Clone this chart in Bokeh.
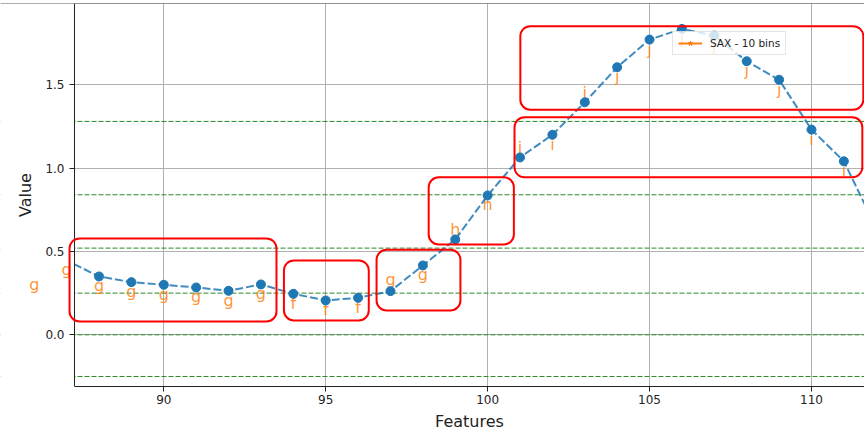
import math
from bokeh.plotting import figure
from bokeh.models import (Label, Span, BoxAnnotation, Legend,
                          LegendItem, FixedTicker, NumeralTickFormatter, Range1d)
from bokeh.embed import file_html
from bokeh.resources import INLINE

# ---- data ----
features = [86, 87, 88, 89, 90, 91, 92, 93, 94, 95, 96, 97, 98, 99,
            100, 101, 102, 103, 104, 105, 106, 107, 108, 109, 110, 111, 112]
values = [0.356, 0.446, 0.350, 0.316, 0.300, 0.284, 0.264, 0.302, 0.246, 0.206,
          0.222, 0.262, 0.416, 0.572, 0.836, 1.064, 1.200, 1.395, 1.605, 1.771,
          1.835, 1.795, 1.641, 1.530, 1.231, 1.041, 0.640]

letter_features = [86, 87, 88, 89, 90, 91, 92, 93, 94, 95, 96, 97, 98, 99,
                   100, 101, 102, 103, 104, 105, 106, 107, 108, 109, 110, 111]
letter_levels = [0.356, 0.446, 0.350, 0.316, 0.300, 0.284, 0.264, 0.302, 0.246, 0.206,
                 0.222, 0.386, 0.416, 0.686, 0.836, 1.183, 1.200, 1.509, 1.605, 1.771,
                 1.835, 1.795, 1.641, 1.530, 1.231, 1.041]
letters = ["g", "g", "g", "g", "g", "g", "g", "g", "f", "f", "f", "g", "g", "h",
           "h", "i", "i", "j", "j", "j", "j", "j", "j", "j", "i", "i"]

breakpoints = [-1.28, -0.84, -0.52, -0.25, 0.0, 0.25, 0.52, 0.84, 1.28]
x_ticks = [90, 95, 100, 105, 110]
y_ticks = [0.0, 0.5, 1.0, 1.5]
legend_label = "SAX - 10 bins"
x_title = "Features"
y_title = "Value"

# highlight boxes in data units
box_left = [87.09, 93.71, 96.57, 98.18, 100.83, 101.01]
box_right = [93.48, 96.33, 99.16, 100.81, 111.57, 111.60]
box_bottom = [0.080, 0.086, 0.146, 0.542, 0.945, 1.350]
box_top = [0.578, 0.446, 0.510, 0.945, 1.305, 1.851]

FONT = "DejaVu Sans"
X_START, X_END = 87.243, 111.637      # visible axes span
X_CANVAS_LEFT = 84.958                # data x at the left edge of the picture
Y_START, Y_END = -0.3101, 1.9874
X_TITLE_Y = -0.520                    # vertical position of the x title (below frame)
Y_TITLE_X = 85.745                    # horizontal position of the y title (left margin)

p = figure(width=864, height=433, output_backend="svg", toolbar_location=None,
           title=None,
           x_range=Range1d(X_CANVAS_LEFT, X_END), y_range=Range1d(Y_START, Y_END),
           min_border_left=0, min_border_right=0, min_border_top=3,
           min_border_bottom=47)
p.outline_line_color = None
p.background_fill_color = "white"
p.border_fill_color = "white"

for ax in (p.xaxis[0], p.yaxis[0]):
    ax.axis_line_color = "#222222"
    ax.axis_line_width = 1
    ax.major_tick_line_color = "#222222"
    ax.major_tick_out = 5
    ax.major_tick_in = 0
    ax.minor_tick_line_color = None
    ax.major_label_text_font = FONT
    ax.major_label_text_font_size = "12px"
    ax.major_label_text_color = "#222222"

p.xaxis.ticker = FixedTicker(ticks=x_ticks)
p.xaxis.bounds = (X_START, X_END)
p.yaxis.ticker = FixedTicker(ticks=y_ticks)
p.yaxis.formatter = NumeralTickFormatter(format="0.0")
p.yaxis.fixed_location = X_START
p.yaxis.level = "annotation"
p.xaxis.major_label_standoff = 3
p.yaxis.major_label_standoff = 5

# axis titles centred on the visible axes span
p.add_layout(Label(x=(X_START + X_END) / 2, y=X_TITLE_Y, text=x_title,
                   text_align="center", text_baseline="middle", text_font=FONT,
                   text_font_size="16px", text_color="#222222"), "below")
p.add_layout(Label(x=Y_TITLE_X, y=(Y_START + Y_END) / 2, text=y_title,
                   angle=math.pi / 2, text_align="center", text_baseline="middle",
                   text_font=FONT, text_font_size="16px", text_color="#222222",
                   level="annotation"))

p.grid.grid_line_color = "#b0b0b0"
p.grid.grid_line_width = 1

# top spine
p.add_layout(Span(location=Y_END, dimension="width", line_color="#222222",
                  line_width=1, level="underlay"))

# SAX breakpoints
for b in breakpoints:
    p.add_layout(Span(location=b, dimension="width", line_color="#2a8a2a",
                      line_width=1, line_dash="5 2", level="underlay"))

# SAX letters; the ones left of the axes stay visible over the blank margin
for fx, fy, t in zip(letter_features, letter_levels, letters):
    lvl = "annotation" if fx < X_START else "underlay"
    p.add_layout(Label(x=fx, y=fy, text=t, text_align="center", text_baseline="top",
                       text_font=FONT, text_font_size="16px", text_color="#ff7f0e",
                       text_alpha=0.85, level=lvl))

# series
p.line(features, values, line_color="#1f77b4", line_width=2, line_dash="8 3",
       line_alpha=0.85)
p.scatter(features, values, marker="circle", size=9, fill_color="#1f77b4",
          line_color="#1f77b4")

# blank margin left of the axes (hides grid, spans and series there)
p.add_layout(BoxAnnotation(right=X_START, fill_color="white", fill_alpha=1,
                           line_color=None, level="guide"))

# legend proxies (a single NaN point: nothing drawn in the frame)
nan = float("nan")
leg_line = p.line([nan], [nan], line_color="#ff7f0e", line_width=2)
leg_star = p.scatter([nan], [nan], marker="star", size=10, fill_color="#ff7f0e",
                     line_color="#ff7f0e")
legend = Legend(items=[LegendItem(label=legend_label, renderers=[leg_line, leg_star])],
                location=(672, 331), label_text_font=FONT, label_text_font_size="10.5px",
                label_text_color="#222222", glyph_width=24, glyph_height=12,
                label_height=12, label_standoff=8, padding=5, margin=0, spacing=0,
                border_line_color="#cccccc", border_line_width=1,
                background_fill_alpha=0.8)
p.add_layout(legend)

# highlight boxes
for l, r, b, t in zip(box_left, box_right, box_bottom, box_top):
    p.add_layout(BoxAnnotation(left=l, right=r, bottom=b, top=t, fill_color=None,
                               fill_alpha=0, line_color="red", line_width=2,
                               line_alpha=1, border_radius=10, level="overlay"))

open("out.html", "w").write(file_html(p, INLINE))
